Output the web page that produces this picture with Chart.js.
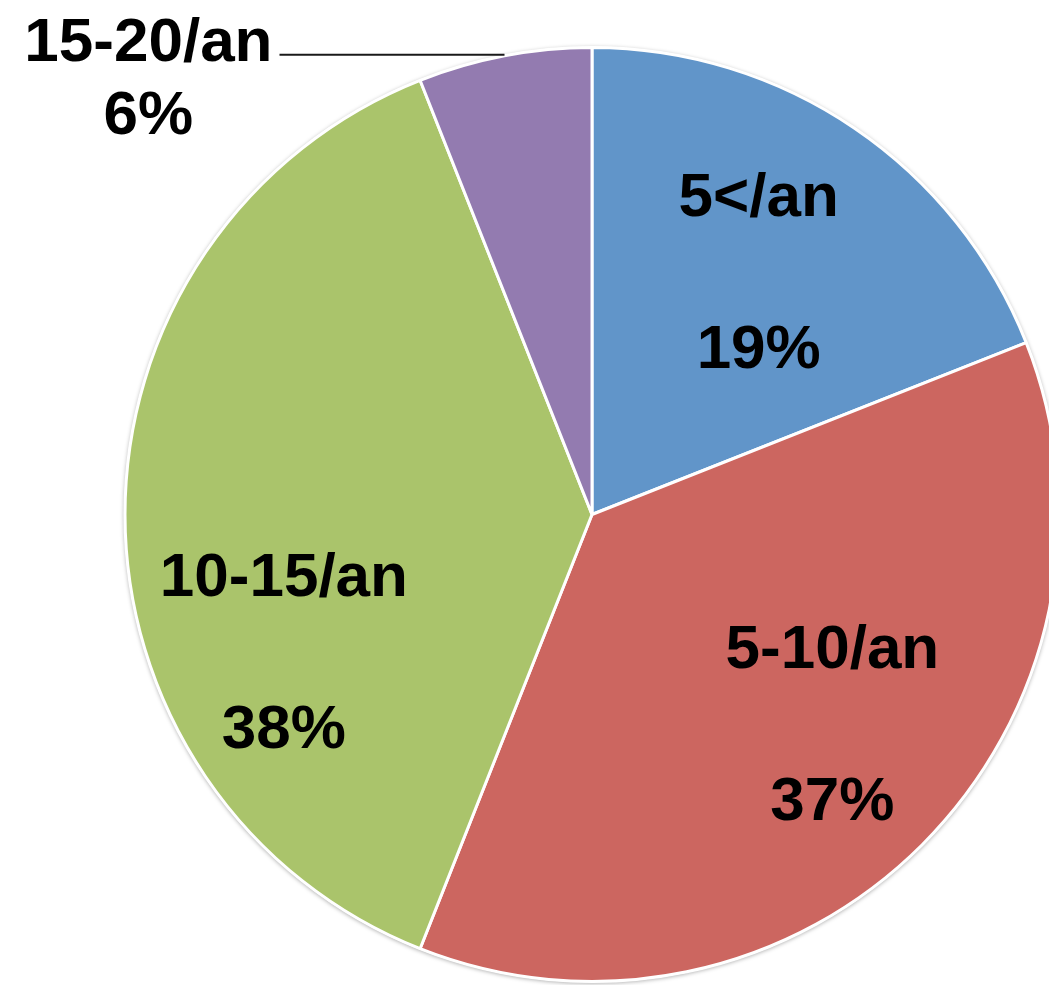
<!DOCTYPE html>
<html lang="fr">
<head>
    <meta charset="utf-8">
    <title>Fréquence</title>
    <script src="https://cdn.jsdelivr.net/npm/chart.js"></script>
    <style>
        html, body { margin: 0; padding: 0; background: #fff; overflow: hidden; }
        #wrap { position: absolute; left: 0; top: 0; width: 1184px; height: 985px; }
    </style>
</head>
<body>
<div id="wrap"><canvas id="myChart" width="1184" height="985"></canvas></div>
<script>
    const categories = ['5</an', '5-10/an', '10-15/an', '15-20/an'];
    const shares = [19, 37, 38, 6];
    const colors = ['#6195c9', '#cc6660', '#aac46b', '#937bb0'];

    // where each label sits: turn (deg) from the slice middle, distance as part of radius
    const placement = [
        { turn: 0, dist: 0.635 },
        { turn: -4.4, dist: 0.678 },
        { turn: -23.6, dist: 0.72 },
        { outside: true, lead: 225 }
    ];

    const FONT = 'bold 62px "Liberation Sans", Arial, sans-serif';

    // soft shadow behind the whole pie
    const shadow = {
        id: 'pieShadow',
        beforeDatasetsDraw(chart) {
            const arc = chart.getDatasetMeta(0).data[0];
            const { x, y, outerRadius } = arc.getProps(['x', 'y', 'outerRadius']);
            const ctx = chart.ctx;
            ctx.save();
            ctx.shadowColor = 'rgba(0,0,0,0.35)';
            ctx.shadowBlur = 4;
            ctx.shadowOffsetY = 1;
            ctx.fillStyle = '#fff';
            ctx.beginPath();
            ctx.arc(x, y, outerRadius + 1, 0, Math.PI * 2);
            ctx.fill();
            ctx.restore();
        }
    };

    const sliceLabels = {
        id: 'sliceLabels',
        afterDatasetsDraw(chart) {
            const ctx = chart.ctx;
            const meta = chart.getDatasetMeta(0);
            ctx.save();
            ctx.font = FONT;
            ctx.fillStyle = '#000';
            meta.data.forEach((arc, i) => {
                const p = arc.getProps(['x', 'y', 'startAngle', 'endAngle', 'outerRadius']);
                const mid = (p.startAngle + p.endAngle) / 2;
                const pct = shares[i] + '%';
                const place = placement[i];
                if (place.outside) {
                    const ax = p.x + Math.cos(mid) * p.outerRadius;
                    const ay = p.y + Math.sin(mid) * p.outerRadius - 1;
                    const lx = ax - place.lead;
                    ctx.strokeStyle = '#1a1a1a';
                    ctx.lineWidth = 2;
                    ctx.beginPath();
                    ctx.moveTo(ax, ay);
                    ctx.lineTo(lx, ay);
                    ctx.stroke();
                    const w = ctx.measureText(categories[i]).width;
                    const right = lx - 7;
                    ctx.textAlign = 'right';
                    ctx.fillText(categories[i], right, ay + 6);
                    ctx.textAlign = 'center';
                    ctx.fillText(pct, right - w / 2, ay + 79);
                } else {
                    const a = mid + place.turn * Math.PI / 180;
                    const r = p.outerRadius * place.dist;
                    const cx = p.x + Math.cos(a) * r;
                    const cy = p.y + Math.sin(a) * r;
                    ctx.textAlign = 'center';
                    // name, empty line, percentage
                    ctx.fillText(categories[i], cx, cy - 53);
                    ctx.fillText(pct, cx, cy + 99);
                }
            });
            ctx.restore();
        }
    };

    new Chart(document.getElementById('myChart'), {
        type: 'pie',
        data: {
            labels: categories,
            datasets: [{
                data: shares,
                backgroundColor: colors,
                borderColor: '#fff',
                borderWidth: 3,
                hoverOffset: 0
            }]
        },
        options: {
            responsive: false,
            animation: false,
            devicePixelRatio: 1,
            layout: { padding: { top: 46, bottom: 2 } },
            plugins: {
                legend: { display: false },
                tooltip: { enabled: false }
            }
        },
        plugins: [shadow, sliceLabels]
    });
</script>
</body>
</html>
